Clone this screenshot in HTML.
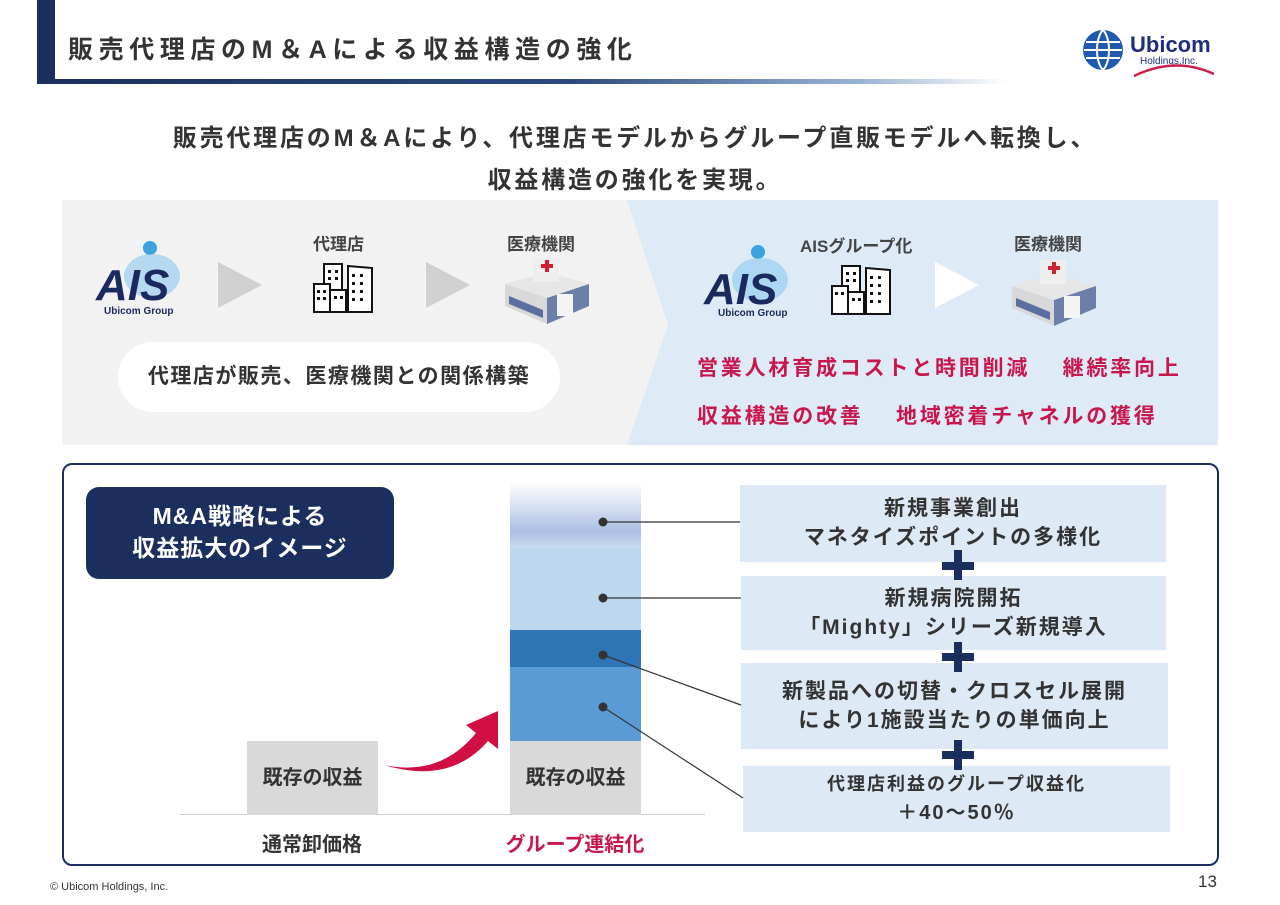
<!DOCTYPE html>
<html><head><meta charset="utf-8"><style>
*{margin:0;padding:0;box-sizing:border-box}
body{width:1280px;height:905px;background:#fff;position:relative;overflow:hidden;font-family:"Liberation Sans","Noto Sans CJK JP",sans-serif;color:#333}
.a{position:absolute}
.c{text-align:center}
.bx{background:#dde9f5;font-weight:bold;letter-spacing:2px;color:#333}
</style></head><body>
<div class="a" style="left:37px;top:0;width:18px;height:84px;background:#1b2f5e"></div>
<div class="a" style="left:37px;top:79px;width:970px;height:5px;background:linear-gradient(90deg,#1b2f5e 0%,#2a4a80 55%,#9ab4d4 85%,rgba(255,255,255,0) 100%)"></div>
<div class="a" style="left:68px;top:30px;font-size:25px;font-weight:bold;color:#333;letter-spacing:5.6px;white-space:nowrap">販売代理店のM＆Aによる収益構造の強化</div>
<svg class="a" style="left:1080px;top:26px" width="140" height="56">
<circle cx="23" cy="24" r="20" fill="#1e5bb0"/><path d="M6 16h34M4 24h38M6 32h34" stroke="#fff" stroke-width="2"/><path d="M23 4c-8 8-8 32 0 40M23 4c8 8 8 32 0 40" stroke="#fff" stroke-width="2" fill="none"/>
<text x="50" y="26" font-size="22" font-weight="bold" fill="#1b2f7e" font-family="Liberation Sans">Ubicom</text>
<text x="60" y="38" font-size="10" fill="#1b2f7e" font-family="Liberation Sans">Holdings,Inc.</text>
<path d="M54 50 Q95 30 134 48" stroke="#c8204a" stroke-width="2.5" fill="none"/>
</svg>
<div class="a c" style="left:0;width:1270px;top:118px;font-size:24px;font-weight:bold;color:#333;line-height:42px;letter-spacing:2.8px">販売代理店のM＆Aにより、代理店モデルからグループ直販モデルへ転換し、<br>収益構造の強化を実現。</div>
<div class="a" style="left:62px;top:200px;width:1156px;height:245px;background:#f2f2f2"></div>
<svg class="a" style="left:627px;top:200px" width="591" height="245"><path d="M0 0H591V245H0L41 125Z" fill="#deebf7"/></svg>
<svg class="a" style="left:92px;top:240px" width="110" height="80"><circle cx="58" cy="8" r="7" fill="#3ba3e0"/><ellipse cx="60" cy="36" rx="28" ry="22" fill="#8cc8ee" opacity=".6"/><text x="4" y="60" font-size="44" font-weight="bold" font-style="italic" fill="#1b2a5e" font-family="Liberation Sans">AIS</text><text x="12" y="74" font-size="10" font-weight="bold" fill="#1b2a5e" font-family="Liberation Sans">Ubicom Group</text></svg>
<svg class="a" style="left:700px;top:244px" width="110" height="80"><circle cx="58" cy="8" r="7" fill="#3ba3e0"/><ellipse cx="60" cy="36" rx="28" ry="22" fill="#8cc8ee" opacity=".6"/><text x="4" y="60" font-size="44" font-weight="bold" font-style="italic" fill="#1b2a5e" font-family="Liberation Sans">AIS</text><text x="18" y="72" font-size="10" font-weight="bold" fill="#1b2a5e" font-family="Liberation Sans">Ubicom Group</text></svg>
<svg class="a" style="left:218px;top:262px" width="44" height="46"><path d="M0 0L44 23L0 46Z" fill="#d0d0d0"/></svg>
<svg class="a" style="left:426px;top:262px" width="44" height="46"><path d="M0 0L44 23L0 46Z" fill="#d0d0d0"/></svg>
<svg class="a" style="left:935px;top:262px" width="44" height="46"><path d="M0 0L44 23L0 46Z" fill="#fff"/></svg>
<svg class="a" style="left:312px;top:262px" width="64" height="52"><g fill="#fff" stroke="#111" stroke-width="2"><rect x="12" y="2" width="18" height="48"/><rect x="2" y="22" width="16" height="28"/><rect x="18" y="28" width="16" height="22"/><path d="M36 4L60 6V50H36Z"/></g><g fill="#111"><rect x="16" y="8" width="3" height="3"/><rect x="23" y="8" width="3" height="3"/><rect x="16" y="15" width="3" height="3"/><rect x="23" y="15" width="3" height="3"/><rect x="5" y="28" width="3" height="3"/><rect x="11" y="28" width="3" height="3"/><rect x="5" y="35" width="3" height="3"/><rect x="11" y="35" width="3" height="3"/><rect x="22" y="34" width="3" height="3"/><rect x="28" y="34" width="3" height="3"/><rect x="40" y="12" width="3" height="3"/><rect x="48" y="12" width="3" height="3"/><rect x="40" y="20" width="3" height="3"/><rect x="48" y="20" width="3" height="3"/><rect x="40" y="28" width="3" height="3"/><rect x="48" y="28" width="3" height="3"/><rect x="40" y="36" width="3" height="3"/><rect x="48" y="36" width="3" height="3"/></g></svg>
<svg class="a" style="left:830px;top:264px" width="64" height="52"><g fill="#fff" stroke="#111" stroke-width="2"><rect x="12" y="2" width="18" height="48"/><rect x="2" y="22" width="16" height="28"/><rect x="18" y="28" width="16" height="22"/><path d="M36 4L60 6V50H36Z"/></g><g fill="#111"><rect x="16" y="8" width="3" height="3"/><rect x="23" y="8" width="3" height="3"/><rect x="16" y="15" width="3" height="3"/><rect x="23" y="15" width="3" height="3"/><rect x="5" y="28" width="3" height="3"/><rect x="11" y="28" width="3" height="3"/><rect x="22" y="34" width="3" height="3"/><rect x="28" y="34" width="3" height="3"/><rect x="40" y="12" width="3" height="3"/><rect x="48" y="12" width="3" height="3"/><rect x="40" y="20" width="3" height="3"/><rect x="48" y="20" width="3" height="3"/><rect x="40" y="28" width="3" height="3"/><rect x="48" y="28" width="3" height="3"/><rect x="40" y="36" width="3" height="3"/><rect x="48" y="36" width="3" height="3"/></g></svg>
<svg class="a" style="left:503px;top:254px" width="88" height="72"><path d="M2 30L44 18L86 30L44 44Z" fill="#e6e6e6"/><path d="M2 30V52L44 70V44Z" fill="#d8d8d8"/><path d="M86 30V52L44 70V44Z" fill="#6b7fa8"/><path d="M6 50L40 64V56L6 42Z" fill="#5a6fa0"/><rect x="30" y="4" width="26" height="24" fill="#eee"/><path d="M38 10h4v-4h4v4h4v4h-4v4h-4v-4h-4z" fill="#d02030"/><rect x="54" y="40" width="16" height="22" fill="#f4f4f4"/></svg>
<svg class="a" style="left:1010px;top:256px" width="88" height="72"><path d="M2 30L44 18L86 30L44 44Z" fill="#e6e6e6"/><path d="M2 30V52L44 70V44Z" fill="#d8d8d8"/><path d="M86 30V52L44 70V44Z" fill="#6b7fa8"/><path d="M6 50L40 64V56L6 42Z" fill="#5a6fa0"/><rect x="30" y="4" width="26" height="24" fill="#eee"/><path d="M38 10h4v-4h4v4h4v4h-4v4h-4v-4h-4z" fill="#d02030"/><rect x="54" y="40" width="16" height="22" fill="#f4f4f4"/></svg>
<div class="a" style="left:313px;top:230px;font-size:17px;font-weight:bold;color:#444">代理店</div>
<div class="a" style="left:507px;top:230px;font-size:17px;font-weight:bold;color:#444">医療機関</div>
<div class="a" style="left:800px;top:232px;font-size:17px;font-weight:bold;color:#444">AISグループ化</div>
<div class="a" style="left:1014px;top:230px;font-size:17px;font-weight:bold;color:#444">医療機関</div>
<div class="a c" style="left:118px;top:342px;width:442px;height:70px;border-radius:35px;background:#fff;font-size:21px;font-weight:bold;letter-spacing:1.5px;line-height:70px;color:#333">代理店が販売、医療機関との関係構築</div>
<div class="a" style="left:697px;top:352px;font-size:21px;font-weight:bold;letter-spacing:2.8px;color:#c8174c;white-space:pre">営業人材育成コストと時間削減　 継続率向上</div>
<div class="a" style="left:697px;top:400px;font-size:21px;font-weight:bold;letter-spacing:2.8px;color:#c8174c;white-space:pre">収益構造の改善　 地域密着チャネルの獲得</div>
<div class="a" style="left:62px;top:463px;width:1157px;height:403px;border:2.5px solid #1b2f5e;border-radius:10px"></div>
<div class="a c" style="left:86px;top:487px;width:308px;height:92px;background:#1b2f5e;border-radius:13px;color:#fff;font-size:23px;font-weight:bold;line-height:32px;padding-top:13px;letter-spacing:1px">M&amp;A戦略による<br>収益拡大のイメージ</div>
<div class="a" style="left:180px;top:814px;width:525px;height:1px;background:#ccc"></div>
<div class="a c" style="left:247px;top:741px;width:131px;height:74px;background:#d9d9d9;font-size:20px;font-weight:bold;line-height:74px">既存の収益</div>
<div class="a c" style="left:510px;top:741px;width:131px;height:74px;background:#d9d9d9;font-size:20px;font-weight:bold;line-height:74px">既存の収益</div>
<div class="a" style="left:510px;top:667px;width:131px;height:74px;background:#5b9bd5"></div>
<div class="a" style="left:510px;top:630px;width:131px;height:37px;background:#2e75b6"></div>
<div class="a" style="left:510px;top:548px;width:131px;height:82px;background:#bdd7ee"></div>
<div class="a" style="left:510px;top:482px;width:131px;height:66px;background:linear-gradient(180deg,#fff 0%,#d4dff0 40%,#a9bfe4 75%,#c9dcf0 100%)"></div>
<svg class="a" style="left:380px;top:705px" width="120" height="70"><path d="M4 60Q60 72 96 28L86 20L118 6L118 44L108 36Q70 80 4 60Z" fill="#d20f45"/></svg>
<div class="a c" style="left:212px;top:828px;width:200px;font-size:20px;font-weight:bold;color:#333">通常卸価格</div>
<div class="a c" style="left:475px;top:828px;width:200px;font-size:20px;font-weight:bold;color:#c8174c">グループ連結化</div>
<div class="a c bx" style="left:740px;top:485px;width:426px;height:77px;font-size:21px;line-height:29px;padding-top:9px">新規事業創出<br>マネタイズポイントの多様化</div>
<div class="a c bx" style="left:741px;top:576px;width:425px;height:74px;font-size:21px;line-height:29px;padding-top:8px">新規病院開拓<br>「Mighty」シリーズ新規導入</div>
<div class="a c bx" style="left:741px;top:663px;width:427px;height:86px;font-size:21px;line-height:29px;padding-top:14px">新製品への切替・クロスセル展開<br>により1施設当たりの単価向上</div>
<div class="a c bx" style="left:743px;top:766px;width:427px;height:66px;font-size:18px;line-height:29px;padding-top:4px">代理店利益のグループ収益化<br><span style="font-size:20px">＋40～50％</span></div>
<svg class="a" style="left:0;top:0" width="1280" height="905"><g stroke="#333" stroke-width="1.2"><line x1="603" y1="522" x2="740" y2="522"/><line x1="603" y1="598" x2="741" y2="598"/><line x1="603" y1="655" x2="741" y2="705"/><line x1="603" y1="707" x2="743" y2="798"/></g><g fill="#333"><circle cx="603" cy="522" r="4.5"/><circle cx="603" cy="598" r="4.5"/><circle cx="603" cy="655" r="4.5"/><circle cx="603" cy="707" r="4.5"/></g>
<g fill="#1b2f5e"><rect x="942" y="562" width="32" height="8"/><rect x="954" y="550" width="8" height="30"/><rect x="942" y="653" width="32" height="8"/><rect x="954" y="642" width="8" height="30"/><rect x="942" y="751" width="32" height="8"/><rect x="954" y="740" width="8" height="30"/></g></svg>
<div class="a" style="left:50px;top:881px;font-size:11px;color:#333">© Ubicom Holdings, Inc.</div>
<div class="a" style="left:1198px;top:872px;font-size:17px;color:#333">13</div>
</body></html>
